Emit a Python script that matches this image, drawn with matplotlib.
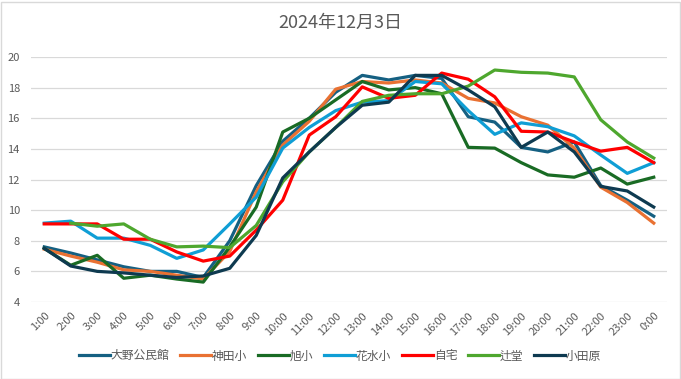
import numpy as np
import matplotlib
matplotlib.use('Agg')
import matplotlib.pyplot as plt
from matplotlib.patches import Rectangle

plt.rcParams['font.family'] = ['Noto Sans CJK JP', 'DejaVu Sans']

hours = ['1:00', '2:00', '3:00', '4:00', '5:00', '6:00', '7:00', '8:00', '9:00', '10:00',
         '11:00', '12:00', '13:00', '14:00', '15:00', '16:00', '17:00', '18:00', '19:00',
         '20:00', '21:00', '22:00', '23:00', '0:00']

oono = [7.6, 7.2, 6.75, 6.3, 6.0, 6.0, 5.6, 8.0, 11.6, 14.5, 16.0, 17.7, 18.8, 18.5,
        18.8, 18.6, 16.1, 15.75, 14.1, 13.8, 14.45, 11.6, 10.65, 9.6]
kanda = [7.45, 7.0, 6.6, 6.1, 6.0, 5.75, 5.5, 7.3, 11.2, 14.25, 15.8, 17.9, 18.4, 18.3,
         18.5, 18.3, 17.3, 17.0, 16.1, 15.55, 14.05, 11.5, 10.5, 9.15]
asahi = [7.5, 6.4, 7.05, 5.55, 5.75, 5.5, 5.3, 7.6, 10.2, 15.1, 16.0, 17.2, 18.4, 17.85,
         18.0, 17.6, 14.1, 14.05, 13.1, 12.3, 12.15, 12.75, 11.7, 12.15]
hanamizu = [9.15, 9.28, 8.17, 8.17, 7.7, 6.85, 7.4, 9.1, 10.85, 14.05, 15.4, 16.5, 17.05, 17.15,
            18.4, 18.25, 16.5, 14.95, 15.7, 15.45, 14.85, 13.6, 12.4, 13.1]
jitaku = [9.1, 9.1, 9.1, 8.1, 8.1, 7.27, 6.67, 7.0, 8.7, 10.65, 14.9, 16.1, 18.05, 17.3,
          17.5, 18.95, 18.55, 17.4, 15.15, 15.1, 14.45, 13.85, 14.1, 13.1]
tsujido = [np.nan, 9.15, 8.95, 9.1, 8.1, 7.6, 7.65, 7.55, 9.0, 11.85, 13.8, 15.4, 17.1, 17.5,
           17.6, 17.6, 18.1, 19.15, 19.0, 18.95, 18.7, 15.9, 14.45, 13.4]
odawara = [7.5, 6.35, 6.0, 5.9, 5.75, 5.6, 5.7, 6.2, 8.35, 12.1, 13.8, 15.4, 16.85, 17.05,
           18.8, 18.8, 17.85, 16.75, 14.1, 15.1, 13.8, 11.55, 11.25, 10.2]

names = ['大野公民館', '神田小', '旭小', '花水小', '自宅', '辻堂', '小田原']
colors = ['#156082', '#E97132', '#196B24', '#0F9ED5', '#FF0000', '#4EA72E', '#0E3A50']
series = [oono, kanda, asahi, hanamizu, jitaku, tsujido, odawara]

fig = plt.figure(figsize=(6.81, 3.79), dpi=100)
ax = fig.add_axes([31 / 681, 1 - 302 / 379, 636 / 681, 245 / 379])

x = np.arange(len(hours))
for vals, name, c in zip(series, names, colors):
    ax.plot(x, vals, color=c, lw=2.3, label=name, solid_joinstyle='round')

ax.set_xlim(-0.5, len(hours) - 0.5)
ax.set_ylim(4, 20)
ax.set_yticks(np.arange(4, 21, 2))
ax.yaxis.grid(True, color='#D9D9D9', lw=0.9)
ax.set_axisbelow(True)
for s in ax.spines.values():
    s.set_visible(False)
ax.tick_params(axis='both', length=0, colors='#595959', labelsize=8)
ax.tick_params(axis='y', pad=8)
ax.set_xticks(x)
ax.set_xticklabels(hours, rotation=45, ha='right', rotation_mode='anchor')
ax.tick_params(axis='x', pad=6)

fig.text(0.5, 1 - 23 / 379, '2024年12月3日', ha='center', va='center',
         fontsize=13, color='#595959')

ax.legend(loc='center', bbox_to_anchor=(340 / 681, 1 - 356 / 379),
          bbox_transform=fig.transFigure, ncol=7, frameon=False,
          fontsize=8.5, labelcolor='#595959', handlelength=2.6, handletextpad=0.1,
          columnspacing=0.9)

fig.patches.append(Rectangle((0.5 / 681, 0.5 / 379), 679 / 681, 377 / 379,
                             transform=fig.transFigure, fill=False,
                             edgecolor='#D9D9D9', lw=1))

fig.savefig('out.png', dpi=100)
